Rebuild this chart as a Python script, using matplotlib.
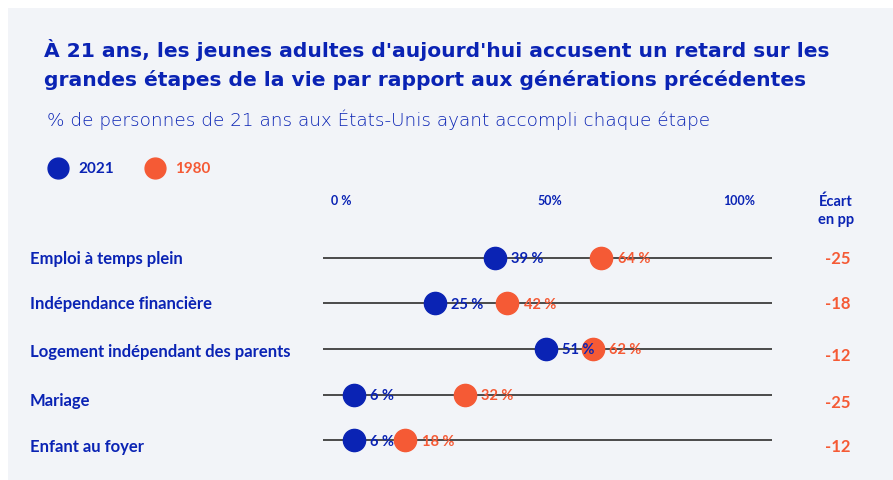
import matplotlib.pyplot as plt
from matplotlib.patches import Rectangle
from matplotlib.transforms import blended_transform_factory

# Données
etapes = ['Emploi à temps plein', 'Indépendance financière',
          'Logement indépendant des parents', 'Mariage', 'Enfant au foyer']
val_2021 = [39, 25, 51, 6, 6]
val_1980 = [64, 42, 62, 32, 18]
ecart = [-25, -18, -12, -25, -12]
tick_labels = ['0 %', '50%', '100%']

BLEU = '#0a23b4'
ORANGE = '#f55a35'
FOND = '#f2f4f8'
W, H = 893, 480

plt.rcParams['font.family'] = ['Lato', 'DejaVu Sans']

fig = plt.figure(figsize=(W / 100, H / 100), dpi=100)
fig.patch.set_facecolor('white')
fig.patches.append(Rectangle((8 / W, 0), 1, 1 - 8 / H, transform=fig.transFigure,
                             facecolor=FOND, edgecolor='none', zorder=-10))

def fx(px):
    return px / W

def fy(py):
    return 1 - py / H

# Titre et sous-titre
titre_font = ['DejaVu Sans']
fig.text(fx(44), fy(50), "À 21 ans, les jeunes adultes d'aujourd'hui accusent un retard sur les",
         color=BLEU, fontsize=14.6, fontweight='bold', va='center', family=titre_font)
fig.text(fx(44), fy(80), "grandes étapes de la vie par rapport aux générations précédentes",
         color=BLEU, fontsize=14.6, fontweight='bold', va='center', family=titre_font)
fig.text(fx(47), fy(120), "% de personnes de 21 ans aux États-Unis ayant accompli chaque étape",
         color=BLEU, fontsize=13.2, fontweight='light', va='center', family=titre_font)

# Zone du graphique
x0_px, x1_px = 323, 772
ax = fig.add_axes([fx(x0_px), fy(463), (x1_px - x0_px) / W, (463 - 235) / H])
ax.set_xlim(-1.2, 104)
ax.set_ylim(len(etapes) - 0.5, -0.5)
ax.axis('off')

# Légende
leg = fig.add_axes([0, 0, 1, 1], zorder=-1)
leg.set_xlim(0, W)
leg.set_ylim(H, 0)
leg.axis('off')
leg.plot([58], [168], 'o', color=BLEU, markersize=15)
leg.plot([155], [168], 'o', color=ORANGE, markersize=15)
leg.text(78, 169, '2021', color=BLEU, fontsize=11, fontweight='bold', va='center')
leg.text(175, 169, '1980', color=ORANGE, fontsize=11, fontweight='bold', va='center')

for i, (a, b) in enumerate(zip(val_2021, val_1980)):
    ax.plot([-1.2, 104], [i, i], color='#4a4a4a', lw=1.4, zorder=1, solid_capstyle='butt')
    ax.plot(a, i, 'o', color=BLEU, markersize=16, zorder=3)
    ax.plot(b, i, 'o', color=ORANGE, markersize=16, zorder=3)
    ax.annotate(f'{a} %', (a, i), xytext=(12, -1), textcoords='offset points',
                color=BLEU, fontsize=10.5, fontweight='bold', va='center', ha='left', zorder=4)
    ax.annotate(f'{b} %', (b, i), xytext=(12, -1), textcoords='offset points',
                color=ORANGE, fontsize=10.5, fontweight='bold', va='center', ha='left', zorder=4)

# Étiquettes des lignes et écarts
decal_nom = [1, 1, 3, 6, 7]
decal_ecart = [1, 1, 7, 8, 7]
tr = blended_transform_factory(fig.transFigure, ax.transData)
px_row = 45.6
for i, (nom, e) in enumerate(zip(etapes, ecart)):
    ax.text(fx(30), i + decal_nom[i] / px_row, nom, transform=tr, color=BLEU, fontsize=12,
            fontweight='bold', va='center', ha='left')
    ax.text(fx(838), i + decal_ecart[i] / px_row, f'{e}', transform=tr, color=ORANGE,
            fontsize=12, fontweight='bold', va='center', ha='center')

# Axe des pourcentages
tick_px = [341, 550, 739]
for px, lab in zip(tick_px, tick_labels):
    fig.text(fx(px), fy(201), lab, color=BLEU, fontsize=9, fontweight='bold',
             va='center', ha='center')
fig.text(fx(836), fy(202), 'Écart', color=BLEU, fontsize=10.5, fontweight='bold',
         va='center', ha='center')
fig.text(fx(836), fy(220), 'en pp', color=BLEU, fontsize=10.5, fontweight='bold',
         va='center', ha='center')

fig.savefig('out.png', dpi=100, facecolor=fig.get_facecolor())
